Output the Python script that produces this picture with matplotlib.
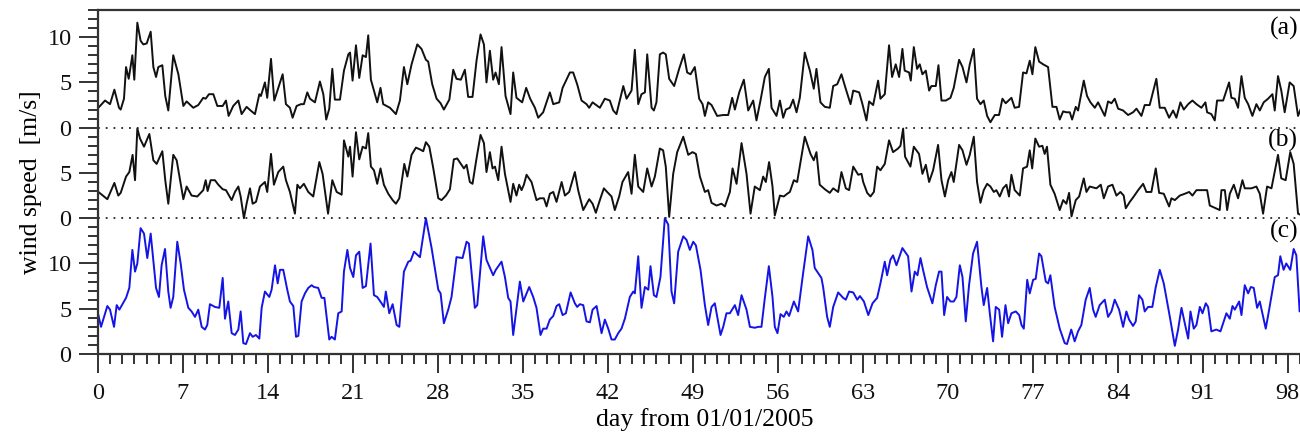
#!/usr/bin/env python3
"""Stacked wind speed series (a), (b), (c) over 100 days from 01/01/2005."""

import matplotlib
matplotlib.use("Agg")
import matplotlib.pyplot as plt
from matplotlib.ticker import MultipleLocator, FixedLocator, FixedFormatter

# ---- data (day, wind speed in m/s) ----
day_a = [
    0.03, 0.58, 0.99, 1.35, 1.73, 1.87, 2.14, 2.31, 2.53, 2.83,
    2.99, 3.24, 3.51, 3.73, 4.01, 4.34, 4.56, 4.78, 4.97, 5.30,
    5.54, 5.79, 6.20, 6.62, 7.03, 7.30, 7.85, 8.26, 8.67, 8.87,
    9.14, 9.50, 9.83, 10.27, 10.54, 10.76, 11.14, 11.56, 11.83, 12.24,
    12.57, 12.93, 13.29, 13.42, 13.75, 13.94, 14.25, 14.52, 15.21, 15.48,
    15.81, 16.03, 16.36, 16.72, 16.96, 17.24, 17.46, 17.87, 18.28, 18.56,
    18.80, 19.05, 19.30, 19.51, 19.93, 20.26, 20.62, 20.76, 20.97, 21.25,
    21.52, 21.80, 22.07, 22.26, 22.48, 23.00, 23.27, 23.49, 24.05, 24.54,
    24.87, 25.20, 25.48, 25.83, 26.30, 26.65, 27.01, 27.20, 27.53, 27.89,
    28.22, 28.49, 28.94, 29.26, 29.53, 29.89, 30.22, 30.49, 30.85, 31.18,
    31.51, 31.79, 32.00, 32.28, 32.55, 32.75, 33.02, 33.24, 33.57, 33.98,
    34.20, 34.47, 34.94, 35.27, 35.60, 35.99, 36.26, 36.67, 37.22, 37.50,
    37.99, 38.27, 38.87, 39.14, 39.47, 39.83, 40.24, 40.46, 40.74, 41.34,
    41.75, 42.16, 42.44, 42.71, 43.27, 43.54, 43.95, 44.22, 44.50, 44.77,
    45.05, 45.24, 45.60, 45.79, 46.00, 46.28, 46.55, 46.77, 47.05, 47.46,
    47.87, 48.26, 48.53, 48.81, 49.16, 49.52, 49.80, 49.99, 50.26, 50.54,
    51.00, 51.50, 51.91, 52.24, 52.46, 52.82, 53.20, 53.56, 53.97, 54.24,
    54.57, 54.93, 55.26, 55.48, 55.89, 56.17, 56.44, 56.66, 56.99, 57.26,
    57.54, 57.81, 58.22, 58.64, 58.96, 59.18, 59.51, 59.87, 60.28, 60.56,
    60.89, 61.24, 61.57, 61.99, 62.21, 62.70, 62.97, 63.30, 63.52, 63.85,
    64.26, 64.45, 64.81, 65.16, 65.41, 65.71, 65.99, 66.26, 66.45, 66.81,
    66.95, 67.20, 67.47, 67.69, 67.91, 68.19, 68.46, 68.65, 69.01, 69.23,
    69.48, 69.84, 70.22, 70.49, 70.93, 71.21, 71.54, 71.81, 72.14, 72.41,
    72.69, 72.96, 73.24, 73.51, 73.87, 74.22, 74.50, 74.77, 75.24, 75.51,
    75.87, 76.20, 76.48, 76.75, 76.97, 77.21, 77.52, 77.85, 78.26, 78.62,
    78.95, 79.22, 79.50, 79.77, 80.05, 80.24, 80.54, 80.73, 81.20, 81.47,
    81.75, 82.11, 82.38, 82.93, 83.20, 83.48, 83.75, 84.03, 84.44, 84.85,
    85.26, 85.54, 85.95, 86.22, 86.63, 87.18, 87.46, 87.87, 88.23, 88.56,
    88.83, 89.16, 89.44, 89.80, 90.15, 90.48, 90.89, 91.22, 91.36, 91.71,
    91.99, 92.18, 92.68, 93.17, 93.36, 93.64, 93.91, 94.19, 94.46, 94.74,
    95.09, 95.42, 95.70, 96.02, 96.38, 96.74, 96.93, 97.20, 97.47, 97.75,
    98.16, 98.49, 98.85, 99.20,
]
speed_a = [
    2.2, 3.0, 2.6, 4.2, 2.2, 2.0, 3.2, 6.7, 5.4, 8.0,
    5.3, 11.6, 9.6, 9.2, 9.3, 10.6, 6.7, 5.6, 6.7, 6.9,
    3.5, 1.9, 8.0, 5.9, 2.4, 2.9, 2.2, 2.5, 3.3, 3.2,
    3.7, 3.7, 2.4, 2.4, 3.0, 1.3, 2.4, 3.0, 1.5, 2.3,
    1.9, 1.5, 3.7, 3.5, 5.0, 3.3, 7.6, 3.0, 5.9, 2.6,
    2.2, 1.1, 2.4, 2.6, 2.6, 3.9, 3.2, 2.8, 5.1, 3.7,
    0.9, 2.1, 6.5, 3.1, 3.1, 6.3, 8.1, 8.3, 5.2, 9.1,
    5.5, 8.0, 7.8, 10.2, 5.3, 2.8, 4.4, 2.6, 2.2, 1.5,
    3.0, 6.7, 4.8, 7.0, 9.2, 8.7, 7.5, 7.3, 4.8, 3.2,
    2.7, 2.0, 3.1, 6.4, 5.4, 5.3, 6.4, 3.4, 3.4, 7.4,
    10.3, 9.2, 5.0, 8.5, 5.3, 6.1, 4.8, 8.9, 3.5, 1.5,
    6.1, 3.3, 2.8, 4.4, 3.2, 2.2, 1.1, 1.7, 3.9, 2.6,
    2.8, 4.4, 6.1, 6.1, 4.8, 3.0, 2.6, 2.2, 2.8, 2.2,
    3.2, 3.0, 1.9, 1.5, 4.6, 3.2, 4.1, 8.6, 2.6, 3.7,
    3.9, 8.1, 2.2, 1.9, 2.8, 8.1, 8.3, 8.1, 5.4, 4.6,
    6.5, 8.1, 6.1, 5.9, 6.7, 3.2, 2.6, 1.3, 2.8, 2.5,
    1.3, 1.4, 1.4, 3.3, 2.0, 3.9, 5.3, 1.9, 3.0, 0.8,
    3.0, 5.6, 6.5, 2.2, 1.3, 3.0, 1.1, 2.0, 2.2, 3.1,
    1.7, 3.3, 8.3, 6.3, 4.3, 6.5, 2.8, 2.3, 2.2, 4.6,
    4.8, 5.9, 4.4, 2.6, 4.1, 3.9, 2.6, 0.8, 2.9, 2.5,
    5.2, 3.2, 3.7, 9.1, 5.6, 7.0, 5.6, 8.7, 6.3, 6.1,
    5.2, 8.9, 6.5, 7.0, 5.9, 6.3, 4.1, 4.6, 4.6, 6.9,
    3.0, 3.0, 3.3, 4.4, 7.5, 6.7, 5.0, 7.0, 8.7, 3.2,
    2.6, 3.0, 1.3, 0.6, 1.4, 1.4, 3.2, 2.7, 3.3, 2.2,
    2.3, 6.1, 6.0, 7.4, 5.9, 8.9, 7.3, 7.0, 6.7, 2.3,
    2.3, 0.9, 1.8, 1.7, 1.7, 0.9, 2.3, 1.9, 5.2, 3.5,
    2.8, 2.2, 2.8, 1.3, 2.9, 2.7, 3.2, 2.1, 1.9, 1.4,
    1.7, 2.1, 1.3, 2.5, 2.5, 5.4, 2.2, 2.2, 1.1, 1.9,
    1.1, 2.8, 2.0, 2.6, 3.0, 2.6, 2.2, 2.8, 1.7, 1.5,
    0.8, 3.0, 3.0, 5.0, 3.3, 3.2, 2.2, 5.7, 3.3, 2.6,
    1.3, 2.6, 1.9, 2.8, 3.2, 3.7, 1.9, 5.7, 4.1, 1.7,
    5.0, 4.6, 1.3, 2.5,
]

day_b = [
    0.03, 0.77, 1.35, 1.67, 1.87, 2.31, 2.58, 2.85, 3.05, 3.24,
    3.46, 3.79, 4.23, 4.56, 4.83, 5.30, 5.54, 5.79, 6.20, 6.48,
    7.03, 7.30, 7.71, 8.18, 8.67, 8.87, 9.03, 9.28, 9.63, 9.91,
    10.27, 10.54, 11.01, 11.28, 11.56, 11.75, 12.02, 12.24, 12.52, 12.74,
    13.01, 13.34, 13.75, 13.94, 14.25, 14.49, 14.85, 15.26, 15.48, 15.81,
    16.22, 16.42, 16.63, 16.96, 17.32, 17.73, 18.23, 18.50, 18.95, 19.30,
    19.66, 20.07, 20.26, 20.62, 20.76, 20.97, 21.25, 21.52, 21.80, 22.07,
    22.26, 22.48, 22.73, 23.00, 23.27, 23.55, 23.91, 24.27, 24.54, 24.82,
    25.23, 25.48, 25.83, 26.19, 26.52, 26.79, 27.01, 27.29, 27.62, 28.03,
    28.30, 28.66, 28.99, 29.31, 29.59, 29.89, 30.14, 30.36, 30.63, 30.85,
    31.18, 31.51, 31.79, 32.00, 32.28, 32.50, 32.70, 32.97, 33.24, 33.52,
    33.98, 34.20, 34.47, 34.69, 34.89, 35.08, 35.30, 35.71, 36.12, 36.40,
    36.73, 36.95, 37.22, 37.50, 37.77, 38.19, 38.46, 38.81, 39.28, 39.55,
    39.97, 40.46, 40.74, 41.01, 41.34, 41.67, 41.94, 42.30, 42.57, 42.93,
    43.20, 43.67, 43.95, 44.22, 44.50, 44.91, 45.24, 45.60, 45.87, 46.28,
    46.55, 46.77, 47.05, 47.38, 47.71, 48.21, 48.62, 48.97, 49.25, 49.58,
    49.99, 50.26, 50.54, 50.95, 51.36, 51.64, 52.05, 52.27, 52.60, 53.01,
    53.42, 53.75, 54.10, 54.52, 54.79, 55.01, 55.28, 55.56, 55.75, 56.17,
    56.49, 56.77, 56.99, 57.32, 57.59, 58.22, 58.69, 58.96, 59.18, 59.45,
    59.87, 60.28, 60.56, 60.97, 61.24, 61.60, 61.87, 62.21, 62.62, 62.89,
    63.03, 63.36, 63.63, 63.91, 64.18, 64.45, 64.81, 65.16, 65.49, 65.90,
    66.10, 66.32, 66.48, 66.92, 67.20, 67.63, 67.91, 68.19, 68.46, 68.79,
    69.20, 69.48, 69.76, 70.03, 70.30, 70.49, 70.93, 71.21, 71.54, 71.81,
    72.14, 72.41, 72.69, 72.96, 73.24, 73.51, 73.79, 74.00, 74.28, 74.55,
    74.83, 75.04, 75.24, 75.51, 75.93, 76.20, 76.53, 76.75, 76.95, 77.21,
    77.52, 77.79, 77.98, 78.17, 78.45, 78.80, 79.22, 79.50, 79.77, 79.99,
    80.19, 80.54, 80.82, 81.20, 81.42, 81.69, 82.24, 82.60, 82.85, 83.20,
    83.56, 83.89, 84.22, 84.49, 84.66, 84.99, 85.32, 85.68, 86.09, 86.36,
    86.77, 87.13, 87.41, 87.79, 88.23, 88.42, 88.70, 89.11, 89.52, 89.88,
    90.15, 90.48, 90.98, 91.36, 91.58, 92.07, 92.40, 92.54, 92.82, 93.01,
    93.23, 93.56, 93.91, 94.27, 94.46, 95.01, 95.42, 95.70, 95.97, 96.30,
    96.66, 97.20, 97.47, 97.83, 98.21, 98.49, 98.85, 99.20,
]
speed_b = [
    2.9, 2.1, 3.9, 2.5, 2.8, 4.6, 5.1, 7.0, 4.2, 9.9,
    8.8, 7.9, 9.3, 6.4, 6.0, 7.4, 4.2, 1.6, 7.0, 6.4,
    2.1, 3.5, 2.5, 2.4, 3.1, 4.2, 3.0, 4.2, 4.2, 3.7,
    3.2, 3.1, 2.0, 2.9, 3.5, 2.4, 0.0, 1.6, 3.3, 1.6,
    1.8, 3.5, 4.0, 2.9, 7.1, 3.7, 5.1, 5.7, 4.2, 2.9,
    0.5, 3.7, 3.3, 3.8, 2.9, 2.4, 6.2, 4.9, 0.5, 4.2,
    2.9, 2.6, 8.6, 6.8, 7.9, 4.6, 9.5, 6.5, 7.9, 7.7,
    9.4, 5.7, 5.3, 3.8, 5.5, 3.7, 2.7, 2.0, 1.6, 2.2,
    6.0, 4.6, 7.0, 7.8, 7.6, 7.4, 8.4, 7.9, 5.5, 2.2,
    2.0, 2.5, 3.2, 6.5, 6.6, 6.0, 5.5, 5.9, 4.0, 3.8,
    6.6, 9.2, 8.3, 5.1, 7.3, 5.5, 5.7, 4.2, 7.9, 4.9,
    1.8, 3.8, 2.5, 3.7, 3.1, 3.7, 4.8, 4.0, 2.0, 2.2,
    2.2, 1.3, 2.7, 2.9, 1.8, 4.0, 2.5, 2.9, 5.1, 3.1,
    0.9, 2.1, 1.6, 0.6, 2.0, 3.3, 2.9, 2.4, 0.9, 2.4,
    4.0, 5.1, 2.7, 7.0, 3.5, 2.9, 5.5, 3.5, 4.6, 7.7,
    7.5, 5.7, 0.15, 4.9, 7.3, 9.0, 7.0, 7.3, 7.1, 4.6,
    2.9, 3.1, 1.7, 1.4, 1.6, 1.3, 2.9, 5.5, 3.8, 8.3,
    4.9, 0.5, 3.5, 3.1, 4.6, 4.0, 6.2, 3.5, 0.3, 2.5,
    2.4, 2.7, 2.9, 4.2, 4.0, 9.0, 7.1, 6.4, 7.3, 3.7,
    3.2, 2.8, 3.3, 2.9, 5.1, 3.3, 3.1, 5.7, 4.8, 4.9,
    4.0, 2.8, 2.4, 2.9, 5.7, 5.3, 6.0, 8.6, 7.3, 7.7,
    8.0, 9.9, 6.8, 5.7, 7.9, 7.1, 4.9, 5.9, 4.0, 5.3,
    8.1, 4.2, 2.4, 4.2, 5.1, 4.0, 8.1, 7.5, 5.9, 7.0,
    9.0, 4.0, 1.7, 3.1, 3.8, 3.5, 2.9, 3.1, 2.4, 3.3,
    3.7, 2.4, 4.8, 3.1, 2.5, 5.5, 5.7, 7.5, 5.5, 8.8,
    7.9, 8.0, 7.1, 7.9, 3.7, 2.7, 0.9, 2.0, 1.6, 2.8,
    0.2, 2.0, 2.4, 4.4, 2.9, 3.5, 3.3, 3.7, 2.2, 3.5,
    3.7, 2.5, 2.9, 2.5, 1.1, 1.8, 2.4, 3.1, 3.8, 2.9,
    2.9, 5.5, 2.8, 2.7, 1.3, 2.2, 2.0, 2.5, 2.7, 2.9,
    2.5, 3.1, 3.1, 3.1, 1.4, 1.1, 0.9, 3.1, 3.1, 0.9,
    2.7, 3.7, 2.2, 4.2, 3.3, 3.3, 3.5, 2.7, 0.5, 3.5,
    3.3, 7.0, 4.4, 4.2, 7.3, 6.0, 0.5, 0.3,
]

day_c = [
    0.03, 0.25, 0.77, 0.99, 1.32, 1.54, 1.76, 2.31, 2.58, 2.83,
    3.05, 3.24, 3.51, 3.79, 4.06, 4.34, 4.78, 5.02, 5.24, 5.52,
    5.79, 5.98, 6.20, 6.53, 6.81, 7.08, 7.44, 7.71, 7.99, 8.26,
    8.54, 8.81, 9.00, 9.22, 9.63, 9.99, 10.27, 10.46, 10.73, 11.01,
    11.28, 11.56, 11.75, 11.97, 12.19, 12.52, 12.74, 13.01, 13.29, 13.48,
    13.75, 14.11, 14.30, 14.58, 14.80, 14.99, 15.26, 15.59, 15.81, 16.09,
    16.31, 16.50, 16.77, 17.05, 17.32, 17.60, 17.79, 18.14, 18.42, 18.65,
    19.05, 19.24, 19.51, 19.79, 20.07, 20.26, 20.54, 20.76, 21.03, 21.25,
    21.52, 21.80, 22.07, 22.45, 22.73, 23.00, 23.36, 23.55, 23.71, 23.99,
    24.27, 24.60, 24.82, 25.20, 25.56, 25.75, 26.03, 26.52, 27.01, 27.48,
    28.03, 28.22, 28.49, 28.85, 29.12, 29.53, 30.03, 30.36, 30.55, 31.04,
    31.24, 31.73, 32.00, 32.55, 32.77, 33.24, 33.52, 33.79, 33.98, 34.20,
    34.75, 35.03, 35.52, 35.85, 36.12, 36.45, 36.67, 36.95, 37.22, 37.50,
    37.77, 37.99, 38.27, 38.54, 38.93, 39.28, 39.47, 39.69, 39.97, 40.24,
    40.52, 40.74, 41.07, 41.48, 41.75, 42.03, 42.30, 42.57, 42.85, 43.12,
    43.40, 43.81, 44.09, 44.22, 44.50, 44.77, 45.05, 45.33, 45.51, 45.79,
    46.00, 46.33, 46.69, 46.97, 47.24, 47.46, 47.79, 48.21, 48.48, 48.75,
    49.03, 49.25, 49.63, 49.99, 50.26, 50.54, 50.81, 51.28, 51.50, 51.77,
    52.05, 52.46, 52.73, 53.01, 53.42, 53.70, 54.10, 54.38, 54.65, 54.93,
    55.26, 55.56, 55.75, 55.97, 56.22, 56.49, 56.71, 56.93, 57.32, 57.67,
    58.08, 58.50, 58.85, 59.04, 59.59, 59.73, 60.06, 60.28, 60.56, 60.97,
    61.38, 61.60, 61.87, 62.21, 62.54, 62.76, 63.09, 63.45, 63.80, 64.18,
    64.45, 64.81, 65.00, 65.27, 65.49, 65.77, 66.26, 66.73, 67.01, 67.28,
    67.50, 67.75, 67.96, 68.29, 68.73, 69.01, 69.28, 69.48, 69.70, 69.94,
    70.22, 70.49, 70.71, 70.99, 71.21, 71.48, 71.75, 72.08, 72.41, 72.77,
    72.96, 73.24, 73.46, 73.73, 73.95, 74.23, 74.47, 74.75, 74.97, 75.24,
    75.60, 75.88, 76.07, 76.26, 76.54, 76.75, 77.03, 77.24, 77.52, 77.71,
    78.07, 78.26, 78.45, 78.80, 79.22, 79.63, 79.82, 80.17, 80.45, 80.73,
    81.00, 81.36, 81.69, 81.97, 82.18, 82.51, 82.93, 83.20, 83.48, 83.75,
    84.11, 84.44, 84.71, 84.93, 85.26, 85.48, 85.75, 86.03, 86.22, 86.50,
    86.85, 87.13, 87.46, 87.79, 88.29, 88.70, 88.97, 89.25, 89.52, 89.80,
    89.99, 90.26, 90.48, 90.76, 90.98, 91.25, 91.44, 91.71, 92.12, 92.46,
    92.95, 93.23, 93.45, 93.64, 94.00, 94.19, 94.46, 94.74, 94.96, 95.20,
    95.48, 95.70, 96.19, 96.47, 96.93, 97.20, 97.39, 97.66, 97.88, 98.21,
    98.49, 98.71, 98.98, 99.20,
]
speed_c = [
    4.3, 3.0, 5.3, 4.9, 3.0, 5.4, 4.9, 6.2, 7.3, 11.5,
    9.1, 10.0, 13.9, 13.3, 10.6, 13.3, 7.3, 6.3, 9.8, 11.6,
    6.9, 5.1, 6.3, 12.4, 10.0, 7.1, 5.1, 4.7, 4.1, 4.9,
    3.0, 2.7, 3.2, 5.5, 5.2, 5.1, 8.4, 3.9, 5.8, 2.3,
    2.1, 2.7, 4.7, 1.2, 1.1, 2.3, 1.9, 2.1, 1.7, 5.1,
    6.9, 6.3, 7.1, 9.8, 7.8, 9.3, 9.3, 7.1, 5.8, 5.3,
    1.9, 2.0, 5.8, 6.7, 7.3, 7.6, 7.4, 7.3, 6.2, 6.2,
    1.6, 1.9, 1.6, 4.5, 4.7, 9.1, 11.5, 9.5, 8.5, 10.9,
    11.3, 7.3, 7.5, 12.2, 6.5, 6.3, 5.6, 5.2, 6.9, 4.5,
    5.5, 3.2, 3.0, 9.1, 10.2, 10.3, 11.3, 10.7, 15.0, 11.7,
    7.1, 6.7, 3.4, 4.9, 6.3, 10.7, 10.6, 12.4, 12.2, 5.1,
    5.4, 13.0, 10.4, 8.7, 9.3, 10.2, 8.5, 6.2, 5.8, 2.1,
    8.0, 5.8, 7.4, 6.3, 5.1, 2.1, 2.8, 2.8, 3.8, 4.2,
    5.3, 5.5, 4.3, 4.5, 6.8, 5.6, 5.2, 5.5, 5.4, 3.6,
    3.5, 4.9, 5.3, 2.3, 3.8, 2.8, 1.6, 1.6, 2.3, 2.8,
    3.9, 6.3, 6.9, 6.7, 10.8, 5.1, 7.4, 7.1, 9.7, 6.5,
    6.3, 8.5, 15.0, 14.3, 6.9, 5.6, 11.3, 13.0, 12.6, 11.5,
    12.4, 12.0, 9.3, 5.4, 3.2, 5.2, 5.6, 2.1, 3.0, 4.5,
    4.5, 5.4, 4.3, 6.5, 4.9, 3.0, 2.9, 3.0, 3.0, 6.2,
    9.7, 6.3, 3.0, 2.3, 4.4, 4.1, 4.7, 4.2, 5.8, 4.7,
    8.9, 13.0, 11.5, 9.5, 8.4, 7.4, 4.1, 3.0, 5.2, 6.8,
    6.2, 6.0, 6.9, 6.8, 6.0, 6.4, 5.8, 4.3, 5.6, 6.2,
    7.8, 10.2, 8.7, 10.4, 10.9, 9.8, 11.7, 10.8, 6.9, 9.1,
    8.7, 10.6, 9.3, 7.4, 5.6, 7.6, 9.1, 9.1, 4.3, 6.3,
    5.8, 5.8, 6.3, 9.8, 8.5, 3.6, 7.6, 11.1, 12.4, 7.4,
    5.4, 7.3, 4.5, 1.4, 5.2, 4.9, 1.9, 5.4, 3.4, 4.5,
    4.7, 4.3, 3.2, 2.8, 8.2, 6.7, 8.2, 8.3, 11.1, 10.8,
    8.0, 7.8, 8.7, 5.2, 2.8, 1.2, 1.1, 2.7, 1.4, 2.5,
    3.2, 6.0, 7.3, 4.9, 4.1, 5.4, 6.0, 4.1, 4.7, 6.0,
    4.9, 3.0, 4.7, 3.8, 3.1, 3.6, 6.5, 6.0, 4.7, 5.2,
    5.2, 7.4, 9.3, 7.8, 4.1, 0.9, 2.7, 5.1, 3.4, 1.7,
    4.7, 2.8, 3.2, 5.2, 4.5, 5.6, 5.2, 2.5, 2.7, 2.5,
    4.5, 3.9, 5.3, 4.9, 5.8, 4.3, 7.6, 6.7, 7.4, 7.3,
    5.1, 5.8, 2.8, 4.9, 8.5, 8.7, 10.8, 9.3, 10.0, 9.3,
    11.6, 10.9, 4.7, 5.5,
]

panel_labels = ["(a)", "(b)", "(c)"]
# each panel sits on its own baseline inside one shared axes
base_a, base_b, base_c = 25, 15, 0
y_tick_values = [0, 5, 10, 15, 20, 25, 30, 35]
y_tick_labels = ["0", "5", "10", "0", "5", "0", "5", "10"]
x_ticks = [0, 7, 14, 21, 28, 35, 42, 49, 56, 63, 70, 77, 84, 91, 98]


def main() -> None:
    plt.rcParams["font.family"] = ["Liberation Serif", "DejaVu Serif"]
    plt.rcParams["font.size"] = 17.5

    fig = plt.figure(figsize=(13.0, 4.36), dpi=100)
    ax = fig.add_axes([98 / 1300, 1 - 354 / 436, 1214 / 1300, 344 / 436])

    ax.plot(day_a, [v + base_a for v in speed_a], color="#111111", lw=1.4)
    ax.plot(day_b, [v + base_b for v in speed_b], color="#111111", lw=1.4)
    ax.plot(day_c, [v + base_c for v in speed_c], color="#1414e6", lw=1.4)

    for y0 in (base_a, base_b):
        ax.axhline(y0, color="#222222", lw=1.3, ls=(0, (1, 3.3)))

    ax.set_xlim(0, 100)
    ax.set_ylim(0, 38)

    ax.xaxis.set_major_locator(FixedLocator(x_ticks))
    ax.xaxis.set_minor_locator(MultipleLocator(1))
    ax.yaxis.set_major_locator(FixedLocator(y_tick_values))
    ax.yaxis.set_major_formatter(FixedFormatter(y_tick_labels))
    ax.yaxis.set_minor_locator(MultipleLocator(1))

    edge = "#333333"
    ax.tick_params(which="major", direction="out", length=14, width=1.4,
                   color=edge, labelcolor="#111111", labelsize=17.5)
    ax.tick_params(which="minor", direction="out", length=7.5, width=1.4,
                   color=edge)
    ax.tick_params(axis="x", which="major", pad=7)
    ax.tick_params(axis="y", which="major", pad=5)
    ax.tick_params(top=False, right=False, which="both")

    for side in ("left", "bottom", "top"):
        ax.spines[side].set_linewidth(1.6)
        ax.spines[side].set_color(edge)
    ax.spines["right"].set_visible(False)

    ax.set_xlabel("day from 01/01/2005", fontsize=18.5, labelpad=3)
    ax.set_ylabel("wind speed  [m/s]", fontsize=18.5, labelpad=4)

    # panel tags sit against the right edge of the picture
    label_y = [36.0, 23.6, 13.5]
    for text, ty in zip(panel_labels, label_y):
        ax.text(98.85, ty, text, fontsize=18.5, ha="right", va="center")

    fig.savefig("out.png", dpi=100)


if __name__ == "__main__":
    main()
